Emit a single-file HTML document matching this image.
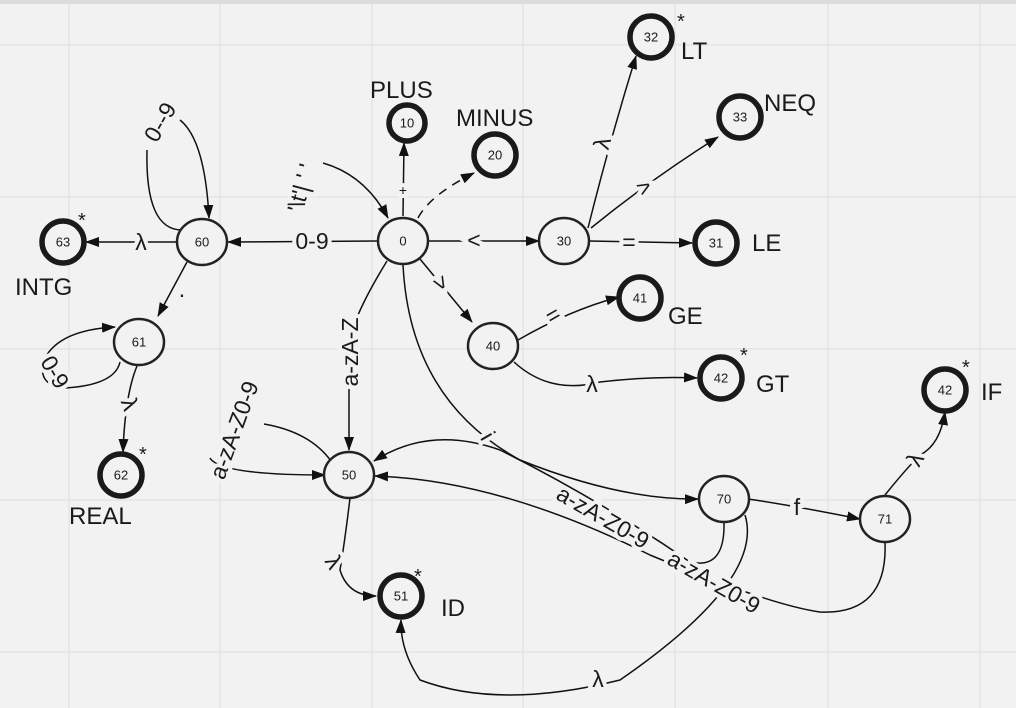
<!DOCTYPE html>
<html><head><meta charset="utf-8"><style>
html,body{margin:0;padding:0;background:#f2f2f2;}
svg{display:block;}
text{font-family:"Liberation Sans","DejaVu Sans",sans-serif;fill:#1a1a1a;}
.lb{paint-order:stroke;stroke:#f2f2f2;stroke-width:8px;font-size:23px;text-anchor:middle;dominant-baseline:central;}
.n{fill:#f2f2f2;stroke:#222;stroke-width:2.5;}
.a{fill:#f2f2f2;stroke:#1a1a1a;stroke-width:5.5;}
.e{fill:none;stroke:#111;stroke-width:1.5;}
.d{fill:none;stroke:#111;stroke-width:1.5;stroke-dasharray:9 7;}
.nt{font-size:13px;text-anchor:middle;dominant-baseline:central;}
.big{font-size:24px;}
</style></head><body>
<svg width="1016" height="708" viewBox="0 0 1016 708" xmlns="http://www.w3.org/2000/svg">
<defs><marker id="ar" markerWidth="14" markerHeight="10" refX="13" refY="5" orient="auto" markerUnits="userSpaceOnUse"><path d="M0,0 L14,5 L0,10 z" fill="#111"/></marker></defs>
<rect width="1016" height="708" fill="#f2f2f2"/>
<g stroke="#e2e2e2" stroke-width="1.2">
<line x1="69" y1="0" x2="69" y2="708"/><line x1="220" y1="0" x2="220" y2="708"/><line x1="372" y1="0" x2="372" y2="708"/><line x1="523" y1="0" x2="523" y2="708"/><line x1="675" y1="0" x2="675" y2="708"/><line x1="828" y1="0" x2="828" y2="708"/><line x1="980" y1="0" x2="980" y2="708"/>
<line x1="0" y1="45" x2="1016" y2="45"/><line x1="0" y1="197" x2="1016" y2="197"/><line x1="0" y1="349" x2="1016" y2="349"/><line x1="0" y1="500" x2="1016" y2="500"/><line x1="0" y1="652" x2="1016" y2="652"/>
</g>
<rect x="0" y="0" width="1016" height="4" fill="#dcdcdc"/>

<g class="e" marker-end="url(#ar)">
<path d="M403,216 L404,143"/>
<path d="M378,241 L228,242"/>
<path d="M178,242 L86,242"/>
<path d="M187,262 L158,316"/>
<path d="M428,241 L539,241"/>
<path d="M589,241 L692,243"/>
<path d="M591,228 Q650,180 718,137"/>
<path d="M588,228 Q610,140 636,56"/>
<path d="M420,259 L472,322"/>
<path d="M518,340 Q570,310 619,297"/>
<path d="M514,362 Q550,395 600,382 Q650,376 697,378"/>
<path d="M323,163 Q365,175 388,218"/>
<path d="M387,261 Q352,318 349,345 L349,450"/>
<path d="M180,120 Q205,140 209,218"/>
<path d="M403,265 Q410,400 520,460 Q620,500 698,499"/>
<path d="M748,499 Q790,505 860,519"/>
<path d="M885,495 Q905,470 920,455 Q940,445 945,412"/>
<path d="M350,498 Q345,540 340,570 Q348,596 376,596"/>
<path d="M745,515 Q765,580 620,680 Q500,710 420,680 Q400,650 401,620"/>
<path d="M724,523 Q725,570 690,562 Q600,500 500,450 Q430,425 374,461"/>
<path d="M885,542 Q888,615 820,612 Q770,605 650,555 Q500,480 375,476"/>
<path d="M210,458 Q220,475 325,475"/>
<path d="M120,362 Q115,385 65,388 Q35,385 45,358 Q60,330 115,327"/>
<path d="M137,366 Q125,395 123,452"/>
</g>
<path class="e" d="M147,150 Q145,230 182,230"/>
<path class="e" d="M264,424 Q310,432 331,461"/>
<path class="d" d="M418,218 Q430,195 474,173" marker-end="url(#ar)"/>

<text class="lb" x="312" y="241" font-size="24">0-9</text>
<text class="lb" x="141" y="242">λ</text>
<text class="lb" x="182" y="289">.</text>
<text class="lb" x="474" y="240">&lt;</text>
<text class="lb" x="629" y="242">=</text>
<text class="lb" x="403" y="190" style="font-size:14px">+</text>
<text class="lb" transform="translate(644,187) rotate(-30)">&gt;</text>
<text class="lb" transform="translate(602,143) rotate(-75)">λ</text>
<text class="lb" transform="translate(441,283) rotate(60)">&gt;</text>
<text class="lb" transform="translate(553,315) rotate(-30)">=</text>
<text class="lb" x="592" y="384">λ</text>
<text class="lb" transform="translate(301,188) rotate(-75)">'\t'| ' '</text>
<text class="lb" transform="translate(350,352) rotate(-90)">a-zA-Z</text>
<text class="lb" transform="translate(160,122) rotate(-60)">0--9</text>
<text class="lb" transform="translate(234,430) rotate(-70)">a-zA-Z0-9</text>
<text class="lb" transform="translate(55,372) rotate(60)">0-9</text>
<text class="lb" transform="translate(130,404) rotate(70)">λ</text>
<text class="lb" transform="translate(334,562) rotate(60)">λ</text>
<text class="lb" transform="translate(488,436) rotate(60)">i</text>
<text class="lb" transform="translate(603,517) rotate(30)">a-zA-Z0-9</text>
<text class="lb" transform="translate(714,582) rotate(30)">a-zA-Z0-9</text>
<text class="lb" x="797" y="507">f</text>
<text class="lb" transform="translate(915,459) rotate(-60)">λ</text>
<text class="lb" x="598" y="679">λ</text>

<g>
<ellipse class="n" cx="403" cy="241" rx="25" ry="23"/><text class="nt" x="403" y="241">0</text>
<ellipse class="n" cx="564" cy="241" rx="25" ry="23"/><text class="nt" x="564" y="241">30</text>
<ellipse class="n" cx="493" cy="346" rx="25" ry="23"/><text class="nt" x="493" y="346">40</text>
<ellipse class="n" cx="349" cy="475" rx="25" ry="23"/><text class="nt" x="349" y="475">50</text>
<ellipse class="n" cx="202" cy="242" rx="25" ry="23"/><text class="nt" x="202" y="242">60</text>
<ellipse class="n" cx="139" cy="342" rx="25" ry="23"/><text class="nt" x="139" y="342">61</text>
<ellipse class="n" cx="724" cy="499" rx="25" ry="23"/><text class="nt" x="724" y="499">70</text>
<ellipse class="n" cx="885" cy="519" rx="25" ry="23"/><text class="nt" x="885" y="519">71</text>
<circle class="a" cx="407" cy="123" r="18"/><text class="nt" x="407" y="123">10</text>
<circle class="a" cx="495" cy="155" r="21"/><text class="nt" x="495" y="155">20</text>
<circle class="a" cx="716" cy="243" r="21"/><text class="nt" x="716" y="243">31</text>
<circle class="a" cx="651" cy="37" r="21"/><text class="nt" x="651" y="37">32</text>
<circle class="a" cx="740" cy="117" r="21"/><text class="nt" x="740" y="117">33</text>
<circle class="a" cx="640" cy="298" r="21"/><text class="nt" x="640" y="298">41</text>
<circle class="a" cx="721" cy="378" r="21"/><text class="nt" x="721" y="378">42</text>
<circle class="a" cx="945" cy="390" r="21"/><text class="nt" x="945" y="390">42</text>
<circle class="a" cx="401" cy="596" r="21"/><text class="nt" x="401" y="596">51</text>
<circle class="a" cx="121" cy="475" r="21"/><text class="nt" x="121" y="475">62</text>
<circle class="a" cx="63" cy="242" r="21"/><text class="nt" x="63" y="242">63</text>
</g>

<g class="big">
<text x="370" y="98" class="big">PLUS</text>
<text x="456" y="126" class="big">MINUS</text>
<text x="681" y="59" class="big">LT</text>
<text x="764" y="111" class="big">NEQ</text>
<text x="752" y="251" class="big">LE</text>
<text x="668" y="324" class="big">GE</text>
<text x="756" y="392" class="big">GT</text>
<text x="981" y="400" class="big">IF</text>
<text x="441" y="616" class="big">ID</text>
<text x="15" y="295" class="big">INTG</text>
<text x="69" y="524" class="big">REAL</text>
</g>
<g font-size="20">
<text x="677" y="28">*</text><text x="740" y="362">*</text><text x="962" y="374">*</text>
<text x="414" y="583">*</text><text x="139" y="461">*</text><text x="78" y="227">*</text>
</g>
</svg>
</body></html>
